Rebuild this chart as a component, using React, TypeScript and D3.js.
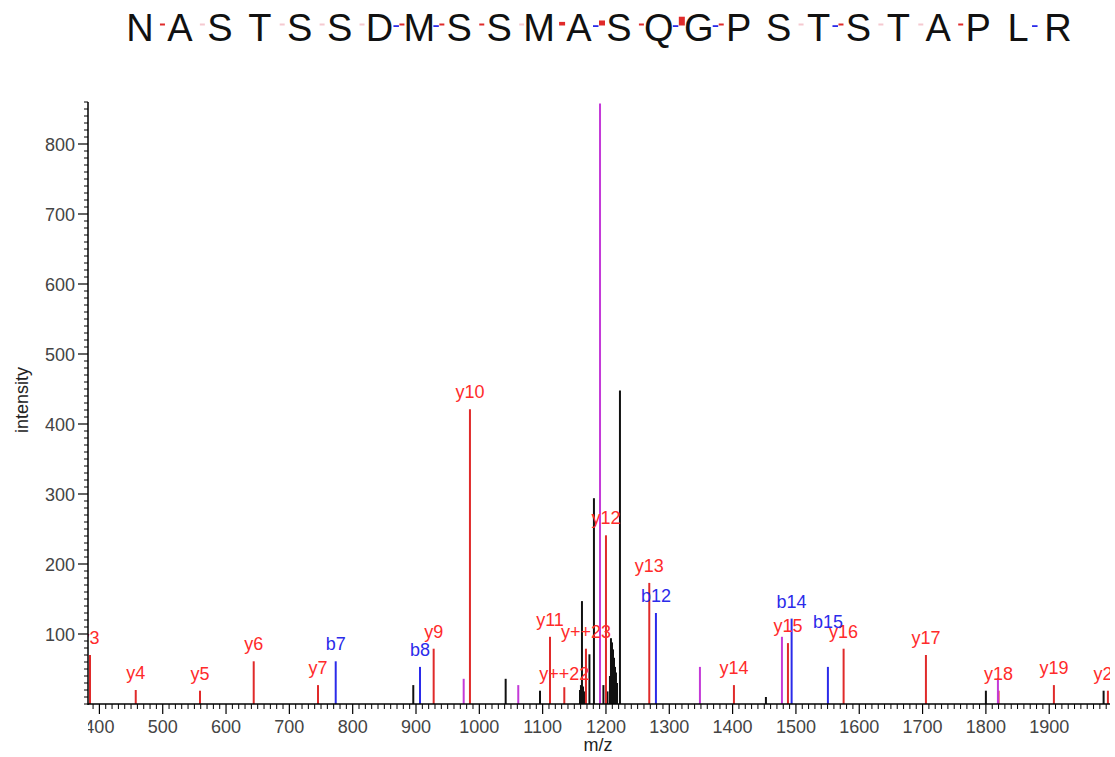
import React from "react";
import * as d3 from "d3";

// ---------- data ----------
const sequence = ["N","A","S","T","S","S","D","M","S","S","M","A","S","Q","G","P","S","T","S","T","A","P","L","R"];
// y-ion intensity observed for each gap between residues (gap 1..23), 0 = not observed
const gapYIntensity = [79, 24, 0, 19, 27, 19, 70, 79, 87, 27, 173, 241, 96, 421, 79, 0, 27, 61, 19, 20, 70, 0, 0];
// b-ion observed for each gap
const gapBObserved = [0, 0, 0, 0, 0, 0, 1, 1, 0, 0, 0, 1, 0, 1, 1, 0, 0, 1, 0, 0, 0, 0, 1];

// peaks: [m/z, intensity, label]
const yIonPeaks: [number, number, string][] = [
  [385.2, 70, "y3"], [457.4, 20, "y4"], [558.9, 19, "y5"], [643.7, 61, "y6"], [745.2, 27, "y7"],
  [927.9, 79, "y9"], [985.2, 421, "y10"], [1111.6, 96, "y11"], [1134.2, 24, "y++22"],
  [1168.4, 79, "y++23"], [1200.0, 241, "y12"], [1268.4, 173, "y13"], [1402.1, 27, "y14"],
  [1487.4, 87, "y15"], [1575.3, 79, "y16"], [1705.3, 70, "y17"], [1820.0, 19, "y18"],
  [1907.4, 27, "y19"], [1992.7, 19, "y20"],
];
const bIonPeaks: [number, number, string][] = [
  [773.2, 61, "b7"], [906.3, 53, "b8"], [1278.9, 130, "b12"], [1493.2, 122, "b14"], [1550.5, 53, "b15"],
];
const magentaPeaks: [number, number][] = [
  [975.3, 36], [1061.5, 27], [1190.6, 858], [1348.4, 53], [1477.9, 96], [1819.0, 37],
];
const otherPeaks: [number, number][] = [
  [895.7, 27], [1041.6, 36], [1095.8, 19],
  [1159.0, 20], [1160.5, 27], [1162.1, 147], [1163.7, 25], [1165.3, 18],
  [1173.9, 71], [1181.0, 294], [1196.0, 27], [1202.4, 18],
  [1206.3, 40], [1207.9, 94], [1209.5, 88], [1211.1, 78], [1212.7, 66], [1214.3, 53], [1215.8, 45], [1217.4, 30],
  [1222.1, 448], [1452.6, 10], [1800.0, 19], [1985.9, 19],
];
const xMajorTicks = [400, 500, 600, 700, 800, 900, 1000, 1100, 1200, 1300, 1400, 1500, 1600, 1700, 1800, 1900];
const yMajorTicks = [100, 200, 300, 400, 500, 600, 700, 800];

// ---------- layout ----------
const W = 1115, H = 757;
const L = 88, R = 1110, T = 102, B = 704;
const labelNudge: Record<string, number> = { b15: -28, "y++22": 4 };

const RED = "#e02a2a";
const RED_TXT = "#ff2b2b";
const BLUE = "#2b2bea";
const MAG = "#c43ad8";
const PINK = "#f5c9d0";
const FONT = "'Liberation Sans', Arial, Helvetica, sans-serif";

export default function App() {
  const x = d3.scaleLinear().domain([382, 1996]).range([L, R]);
  const y = d3.scaleLinear().domain([0, 860]).range([B, T]);
  const seqX = d3.scalePoint<number>().domain(d3.range(sequence.length)).range([140, 1058]);

  const xMinor = d3.range(390, 1996, 10).filter((v) => xMajorTicks.indexOf(v) < 0);
  const yMinor = d3.range(0, 861, 10).filter((v) => yMajorTicks.indexOf(v) < 0);

  const peakLine = (mz: number, v: number, color: string, key: string) => (
    <line key={key} x1={x(mz)} x2={x(mz)} y1={B} y2={y(v)} stroke={color} strokeWidth={2} />
  );
  const label = (mz: number, v: number, text: string, color: string) => (
    <text key={"l" + text} x={x(mz)} y={y(v) - 11 + (labelNudge[text] || 0)} fill={color}
      fontSize={18} textAnchor="middle" fontFamily={FONT}>{text}</text>
  );

  return (
    <svg width={W} height={H} style={{ position: "absolute", left: 0, top: 0, background: "#fff" }}>
      <defs>
        <clipPath id="plotclip"><rect x={L} y={0} width={R - L} height={H} /></clipPath>
      </defs>
      <rect x={0} y={0} width={W} height={H} fill="#fff" />

      {/* sequence */}
      {sequence.map((s, i) => (
        <text key={"s" + i} x={seqX(i)} y={41} fontSize={38} textAnchor="middle" fontFamily={FONT} fill="#111">{s}</text>
      ))}
      {gapYIntensity.map((v, i) => {
        const mid = ((seqX(i) as number) + (seqX(i + 1) as number)) / 2;
        const els = [] as any[];
        if (gapBObserved[i]) {
          els.push(<rect key={"gb" + i} x={mid - 6} y={25.2} width={5.5} height={1.8} fill={BLUE} />);
        }
        if (v > 0) {
          const h = Math.max(2, v / 48);
          els.push(<rect key={"gy" + i} x={mid} y={25.5 - h} width={v > 150 ? 6 : 5} height={h} fill={v < 30 ? PINK : RED} />);
        }
        return els;
      })}

      {/* peaks */}
      <g clipPath="url(#plotclip)">
        {otherPeaks.map(([m, v], i) => peakLine(m, v, "#111", "o" + i))}
        {yIonPeaks.map(([m, v], i) => peakLine(m, v, RED, "y" + i))}
        {bIonPeaks.map(([m, v], i) => peakLine(m, v, BLUE, "b" + i))}
        {magentaPeaks.map(([m, v], i) => peakLine(m, v, MAG, "m" + i))}
        {yIonPeaks.map(([m, v, t]) => label(m, v, t, RED_TXT))}
        {bIonPeaks.map(([m, v, t]) => label(m, v, t, BLUE))}
      </g>

      {/* axes */}
      <line x1={L} x2={L} y1={T} y2={B + 1} stroke="#000" strokeWidth={1.5} />
      <line x1={L} x2={R} y1={B} y2={B} stroke="#000" strokeWidth={1.5} />
      {yMinor.map((v) => <line key={"ym" + v} x1={L - 4} x2={L} y1={y(v)} y2={y(v)} stroke="#000" strokeWidth={1} />)}
      {yMajorTicks.map((v) => (
        <g key={"yM" + v}>
          <line x1={L - 10} x2={L} y1={y(v)} y2={y(v)} stroke="#000" strokeWidth={1.2} />
          <text x={L - 13} y={y(v) + 6.5} fontSize={18} textAnchor="end" fontFamily={FONT} fill="#444">{v}</text>
        </g>
      ))}
      {xMinor.map((v) => <line key={"xm" + v} x1={x(v)} x2={x(v)} y1={B} y2={B + 5} stroke="#000" strokeWidth={1} />)}
      <g clipPath="url(#plotclip)">
        {xMajorTicks.map((v) => (
          <g key={"xM" + v}>
            <line x1={x(v)} x2={x(v)} y1={B} y2={B + 10} stroke="#000" strokeWidth={1.2} />
            <text x={x(v)} y={B + 29} fontSize={18} textAnchor="middle" fontFamily={FONT} fill="#444">{v}</text>
          </g>
        ))}
      </g>
      <text x={598} y={751} fontSize={18} textAnchor="middle" fontFamily={FONT} fill="#222">m/z</text>
      <text transform="translate(28,400) rotate(-90)" fontSize={18} textAnchor="middle" fontFamily={FONT} fill="#222">intensity</text>
    </svg>
  );
}
